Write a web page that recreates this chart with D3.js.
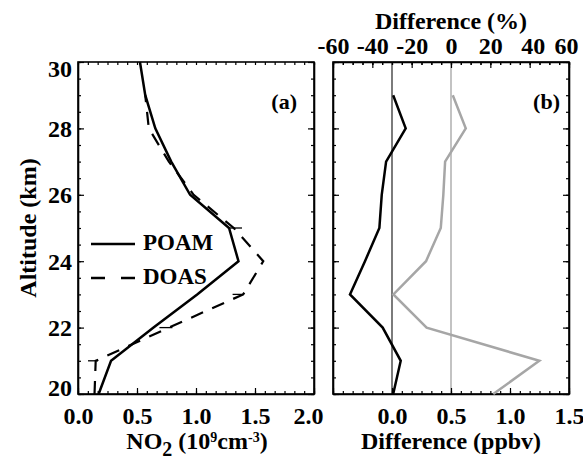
<!DOCTYPE html>
<html>
<head>
<meta charset="utf-8">
<script src="https://cdn.jsdelivr.net/npm/d3@7"></script>
<style>
  html, body { margin: 0; padding: 0; background: #fff; }
  svg { display: block; font-family: "Liberation Serif", "Times New Roman", serif; font-weight: bold; }
</style>
</head>
<body>
<svg id="chart" width="583" height="459"></svg>
<script>
// NO2 profiles (altitude in km) and their differences
const altPoam = [20, 21, 22, 23, 24, 25, 26, 27, 28, 29, 30];
const poam    = [0.175, 0.28, 0.64, 1.01, 1.36, 1.28, 0.95, 0.79, 0.655, 0.57, 0.525];

const altDoas = [20, 21, 22, 23, 24, 25, 26, 27, 28, 29];
const doas    = [0.14, 0.15, 0.77, 1.40, 1.57, 1.32, 0.98, 0.77, 0.60, 0.57];

// short horizontal DOAS error marks: altitude, low and high ends
const errAlt = [21, 22, 23, 25];
const errLo  = [0.085, 0.69, 1.31, 1.27];
const errHi  = [0.17, 0.80, 1.40, 1.39];

const altDiff  = [20, 21, 22, 23, 24, 25, 26, 27, 28, 29];
const diffPpbv = [0.01, 0.074, -0.079, -0.356, -0.229, -0.107, -0.087, -0.05, 0.116, 0.01];
const diffPct  = [21.5, 44.9, -12.4, -29.3, -12.7, -5.2, -3.9, -3.0, 7.5, 0.9];

const xTicksA   = [0.0, 0.5, 1.0, 1.5, 2.0];
const xTicksB   = [0.0, 0.5, 1.0, 1.5];
const pctTicks  = [-60, -40, -20, 0, 20, 40, 60];
const altTicks  = [20, 22, 24, 26, 28, 30];

const svg = d3.select("#chart");
const plotTop = 62, plotBottom = 394;
const panelA = { x0: 78, x1: 314 };
const panelB = { x0: 333, x1: 569 };
const FS = 24;

const y = d3.scaleLinear().domain([20, 30]).range([plotBottom, plotTop]);
const xA = d3.scaleLinear().domain([0, 2]).range([panelA.x0, panelA.x1]);
const xB = d3.scaleLinear().domain([-0.5, 1.5]).range([panelB.x0, panelB.x1]);
const xP = d3.scaleLinear().domain([-60, 60]).range([panelB.x0, panelB.x1]);

const minorY = d3.range(20, 30.01, 0.5);
const minorX = (lo, hi) => d3.range(lo, hi + 1e-6, 0.5 / 6);
const minorP = d3.range(-60, 60.01, 5);

function styleAxis(g) {
  g.select(".domain").attr("stroke", "#000").attr("stroke-width", 1.6);
  g.selectAll(".tick line").attr("stroke", "#000").attr("stroke-width", 1.2);
  g.selectAll("text").attr("font-size", FS).attr("font-weight", "bold")
    .attr("font-family", "Liberation Serif, serif").attr("fill", "#000");
}

function drawFrame(x, x0, x1, xMajors, labelMajors, xMinors, labelFilter) {
  // bottom
  const gb = svg.append("g").attr("transform", `translate(0,${plotBottom})`);
  gb.call(d3.axisBottom(x).tickValues(xMinors).tickSize(-3).tickSizeOuter(0).tickFormat(""));
  gb.selectAll(".tick line").attr("stroke", "#000").attr("stroke-width", 1.2);
  gb.select(".domain").remove();
  const gb2 = svg.append("g").attr("transform", `translate(0,${plotBottom})`);
  gb2.call(d3.axisBottom(x).tickValues(xMajors).tickSize(-6).tickSizeOuter(0).tickPadding(13)
    .tickFormat(d => labelMajors.includes(d) ? d3.format(".1f")(d) : ""));
  styleAxis(gb2);
  if (labelFilter) labelFilter(gb2);
  // top (ticks only)
  const gt = svg.append("g").attr("transform", `translate(0,${plotTop})`);
  gt.call(d3.axisTop(x).tickValues(xMinors).tickSize(-3).tickSizeOuter(0).tickFormat(""));
  gt.selectAll(".tick line").attr("stroke", "#000").attr("stroke-width", 1.2);
  gt.select(".domain").remove();
  // left and right ticks
  [[x0, d3.axisLeft], [x1, d3.axisRight]].forEach(([px, ax]) => {
    const gm = svg.append("g").attr("transform", `translate(${px},0)`);
    gm.call(ax(y).tickValues(minorY).tickSize(-3).tickSizeOuter(0).tickFormat(""));
    gm.selectAll(".tick line").attr("stroke", "#000").attr("stroke-width", 1.2);
    gm.select(".domain").remove();
    const gM = svg.append("g").attr("transform", `translate(${px},0)`);
    gM.call(ax(y).tickValues(altTicks).tickSize(-6).tickSizeOuter(0).tickFormat(""));
    styleAxis(gM);
  });
  // frame box
  svg.append("rect").attr("x", x0).attr("y", plotTop).attr("width", x1 - x0).attr("height", plotBottom - plotTop)
    .attr("fill", "none").attr("stroke", "#000").attr("stroke-width", 1.6);
}

// ---------- panel (a) ----------
drawFrame(xA, panelA.x0, panelA.x1, xTicksA, xTicksA, minorX(0, 2), g => {
  g.selectAll(".tick text").filter(d => d === 2).attr("dx", -6);
});

// left altitude labels
const gy = svg.append("g").attr("transform", `translate(${panelA.x0},0)`);
gy.call(d3.axisLeft(y).tickValues(altTicks).tickSize(0).tickPadding(6).tickFormat(d3.format("d")));
gy.select(".domain").remove();
styleAxis(gy);
gy.selectAll(".tick text").attr("dy", d => d === 30 ? "0.6em" : d === 20 ? "0.05em" : "0.33em");

svg.append("text").attr("transform", `translate(36,${(plotTop + plotBottom) / 2}) rotate(-90)`)
  .attr("text-anchor", "middle").attr("font-size", FS).text("Altitude (km)");

const lineA = (xs, alts) => d3.line().x((d, i) => xA(xs[i])).y((d, i) => y(alts[i]))(alts);

svg.append("path").attr("d", lineA(doas, altDoas)).attr("fill", "none")
  .attr("stroke", "#000").attr("stroke-width", 2.2).attr("stroke-dasharray", "13,10");
svg.selectAll(".err").data(errAlt).join("line")
  .attr("x1", (d, i) => xA(errLo[i])).attr("x2", (d, i) => xA(errHi[i]))
  .attr("y1", d => y(d)).attr("y2", d => y(d))
  .attr("stroke", "#000").attr("stroke-width", 1.3);
svg.append("path").attr("d", lineA(poam, altPoam)).attr("fill", "none")
  .attr("stroke", "#000").attr("stroke-width", 2.5).attr("stroke-linejoin", "miter");

// legend
const leg = svg.append("g");
leg.append("line").attr("x1", 91).attr("x2", 135).attr("y1", 244).attr("y2", 244)
  .attr("stroke", "#000").attr("stroke-width", 2.5);
leg.append("text").attr("x", 143).attr("y", 250).attr("font-size", FS - 1).text("POAM");
leg.append("line").attr("x1", 91).attr("x2", 135).attr("y1", 278).attr("y2", 278)
  .attr("stroke", "#000").attr("stroke-width", 2.5).attr("stroke-dasharray", "14,16");
leg.append("text").attr("x", 143).attr("y", 284).attr("font-size", FS - 1).text("DOAS");

svg.append("text").attr("x", 297).attr("y", 109).attr("text-anchor", "end")
  .attr("font-size", FS - 2).text("(a)");

// x title panel (a)
const tA = svg.append("text").attr("x", (panelA.x0 + panelA.x1) / 2 + 1).attr("y", 449)
  .attr("text-anchor", "middle").attr("font-size", FS);
tA.append("tspan").text("NO");
tA.append("tspan").attr("dy", 7).attr("font-size", 20).text("2");
tA.append("tspan").attr("dy", -7).text(" (10");
tA.append("tspan").attr("dy", -7).attr("font-size", 14).text("9");
tA.append("tspan").attr("dy", 7).text("cm");
tA.append("tspan").attr("dy", -7).attr("font-size", 14).text("-3");
tA.append("tspan").attr("dy", 7).text(")");

// ---------- panel (b) ----------
// reference lines: zero ppbv (black) and zero percent (gray)
svg.append("line").attr("x1", xB(0)).attr("x2", xB(0)).attr("y1", plotTop).attr("y2", plotBottom)
  .attr("stroke", "#444").attr("stroke-width", 1.4);
svg.append("line").attr("x1", xP(0)).attr("x2", xP(0)).attr("y1", plotTop).attr("y2", plotBottom)
  .attr("stroke", "#b4b4b4").attr("stroke-width", 1.6);

drawFrame(xB, panelB.x0, panelB.x1, [-0.5, ...xTicksB], xTicksB, minorX(-0.5, 1.5));

// top percent axis
const gp = svg.append("g").attr("transform", `translate(0,${plotTop})`);
gp.call(d3.axisTop(xP).tickValues(minorP).tickSize(-3).tickSizeOuter(0).tickFormat(""));
gp.selectAll(".tick line").attr("stroke", "#000").attr("stroke-width", 1.2);
gp.select(".domain").remove();
const gp2 = svg.append("g").attr("transform", `translate(0,${plotTop})`);
gp2.call(d3.axisTop(xP).tickValues(pctTicks).tickSize(-6).tickSizeOuter(0).tickPadding(8)
  .tickFormat(d => String(d)));
styleAxis(gp2);
gp2.selectAll(".tick text").attr("dy", "0").attr("dx", d => d === 40 ? 3 : d === 60 ? -3 : 0);

svg.append("text").attr("x", 451).attr("y", 29).attr("text-anchor", "middle")
  .attr("font-size", FS).text("Difference (%)");
svg.append("text").attr("x", 451).attr("y", 449).attr("text-anchor", "middle")
  .attr("font-size", FS).text("Difference (ppbv)");
svg.append("text").attr("x", 560).attr("y", 109).attr("text-anchor", "end")
  .attr("font-size", FS - 2).text("(b)");

const lineB = d3.line().x((d, i) => xB(diffPpbv[i])).y((d, i) => y(altDiff[i]));
const lineP = d3.line().x((d, i) => xP(diffPct[i])).y((d, i) => y(altDiff[i]));
svg.append("path").attr("d", lineP(altDiff)).attr("fill", "none")
  .attr("stroke", "#a6a6a6").attr("stroke-width", 2.5);
svg.append("path").attr("d", lineB(altDiff)).attr("fill", "none")
  .attr("stroke", "#000").attr("stroke-width", 2.5);
</script>
</body>
</html>
